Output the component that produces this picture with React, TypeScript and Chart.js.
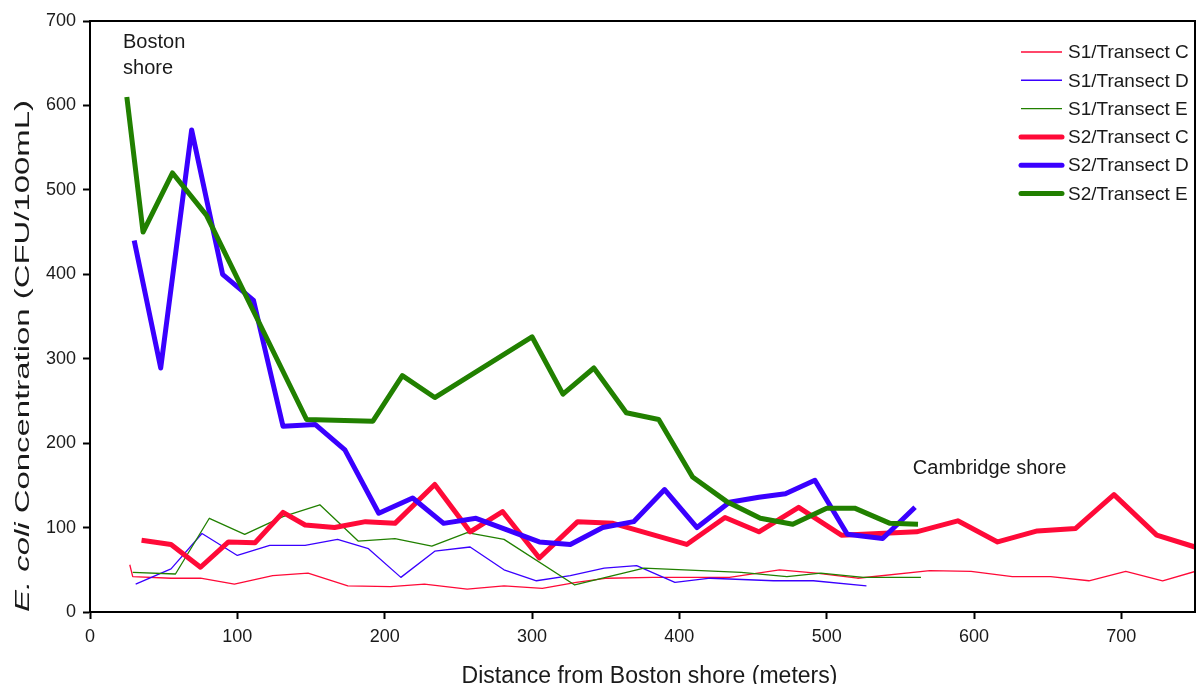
import React, { useEffect, useRef } from 'react';
import { Chart, registerables } from 'chart.js';

Chart.register(...registerables);

// ---- Data (distance from Boston shore in m, E. coli CFU/100mL) ----
const S1C_X = [27, 29, 55, 75, 98, 124, 148, 175, 204, 227, 256, 281, 307, 330, 351, 382, 434, 468, 493, 521, 570, 598, 626, 652, 678, 703, 728, 750];
const S1C_Y = [56, 42, 40, 40, 33, 43, 46, 31, 30, 33, 27, 31, 28, 35, 40, 41, 41, 50, 46, 40, 49, 48, 42, 42, 37, 48, 37, 48];

const S1D_X = [31, 55, 76, 100, 122, 146, 168, 189, 211, 234, 258, 281, 303, 326, 349, 371, 397, 421, 464, 491, 527];
const S1D_Y = [33, 51, 93, 67, 79, 79, 86, 75, 41, 72, 77, 50, 37, 43, 52, 55, 35, 40, 37, 37, 31];

const S1E_X = [29, 58, 81, 105, 131, 156, 182, 207, 232, 256, 281, 329, 376, 442, 473, 496, 525, 564];
const S1E_Y = [47, 45, 111, 92, 113, 127, 84, 87, 78, 94, 86, 32, 52, 47, 42, 46, 41, 41];

const S2C_X = [35, 55, 75, 94, 112, 131, 146, 166, 187, 207, 234, 258, 280, 305, 331, 355, 405, 431, 454, 481, 510, 561, 589, 616, 643, 669, 695, 724, 750];
const S2C_Y = [85, 80, 53, 83, 82, 118, 103, 100, 107, 105, 151, 95, 119, 64, 107, 105, 80, 112, 95, 124, 91, 95, 108, 83, 96, 99, 139, 91, 77];

const S2D_X = [30, 48, 69, 90, 111, 131, 153, 173, 196, 219, 240, 262, 305, 326, 348, 369, 390, 412, 434, 454, 472, 492, 514, 538, 560];
const S2D_Y = [440, 289, 571, 400, 369, 220, 222, 192, 117, 135, 105, 111, 83, 80, 100, 107, 145, 100, 130, 136, 140, 156, 92, 87, 124];

const S2E_X = [25, 36, 56, 79, 147, 192, 212, 234, 300, 321, 342, 364, 386, 409, 432, 455, 477, 500, 519, 543, 562];
const S2E_Y = [610, 450, 520, 470, 228, 226, 280, 254, 326, 258, 289, 236, 228, 160, 131, 111, 104, 123, 123, 105, 104];

const SERIES_LABELS = ['S1/Transect C', 'S1/Transect D', 'S1/Transect E', 'S2/Transect C', 'S2/Transect D', 'S2/Transect E'];

const X_TICKS = [0, 100, 200, 300, 400, 500, 600, 700];
const Y_TICKS = [0, 100, 200, 300, 400, 500, 600, 700];

const X_TITLE = 'Distance from Boston shore (meters)';
const Y_TITLE_ITALIC = 'E. coli';
const Y_TITLE_REST = ' Concentration (CFU/100mL)';

const NOTE_BOSTON = ['Boston', 'shore'];
const NOTE_BOSTON_AT = { x: 22.4, y: 668 };
const NOTE_CAMBRIDGE = 'Cambridge shore';
const NOTE_CAMBRIDGE_AT = { x: 558.5, y: 164 };

const RED = '#FF0A38';
const BLUE = '#3A00FF';
const GREEN = '#218000';
const FONT = '"Liberation Sans", Arial, Helvetica, sans-serif';
const TEXT = '#1a1a1a';

function pts(xs: number[], ys: number[]) {
  return xs.map((x, i) => ({ x, y: ys[i] }));
}

const decorPlugin = {
  id: 'decor',
  afterDraw(chart: any) {
    const ctx = chart.ctx as CanvasRenderingContext2D;
    const ca = chart.chartArea;
    const xs = chart.scales.x;
    const ys = chart.scales.y;
    ctx.save();

    // frame
    ctx.strokeStyle = '#000';
    ctx.lineWidth = 2;
    ctx.beginPath();
    ctx.moveTo(ca.left, ca.top);
    ctx.lineTo(ca.right, ca.top);
    ctx.lineTo(ca.right, ca.bottom);
    ctx.stroke();

    // legend
    const ds = chart.data.datasets;
    ctx.font = `19px ${FONT}`;
    ctx.textBaseline = 'middle';
    ctx.textAlign = 'left';
    for (let i = 0; i < ds.length; i++) {
      const y = ca.top + 31 + i * 28.3;
      const thick = ds[i].borderWidth > 3;
      ctx.strokeStyle = ds[i].borderColor;
      ctx.lineWidth = thick ? 5 : 1.4;
      ctx.lineCap = thick ? 'round' : 'butt';
      ctx.beginPath();
      ctx.moveTo(ca.right - 174, y);
      ctx.lineTo(ca.right - 133, y);
      ctx.stroke();
      ctx.fillStyle = TEXT;
      ctx.fillText(ds[i].label, ca.right - 127, y + 1);
    }
    ctx.lineCap = 'butt';

    // annotations
    ctx.font = `20px ${FONT}`;
    ctx.textBaseline = 'alphabetic';
    ctx.fillStyle = TEXT;
    const bx = xs.getPixelForValue(NOTE_BOSTON_AT.x);
    const by = ys.getPixelForValue(NOTE_BOSTON_AT.y);
    NOTE_BOSTON.forEach((t, i) => ctx.fillText(t, bx, by + i * 26));
    ctx.fillText(NOTE_CAMBRIDGE, xs.getPixelForValue(NOTE_CAMBRIDGE_AT.x), ys.getPixelForValue(NOTE_CAMBRIDGE_AT.y));

    // x title
    ctx.font = `23px ${FONT}`;
    ctx.textAlign = 'center';
    ctx.fillText(X_TITLE, (ca.left + ca.right) / 2 + 7, chart.height - 1);

    // y title (rotated, stretched along its length)
    ctx.textAlign = 'left';
    ctx.textBaseline = 'middle';
    const fI = `italic 21px ${FONT}`;
    const fR = `21px ${FONT}`;
    ctx.font = fI;
    const wI = ctx.measureText(Y_TITLE_ITALIC).width;
    ctx.font = fR;
    const wR = ctx.measureText(Y_TITLE_REST).width;
    const total = wI + wR;
    const target = ca.bottom - 100;
    const cy = (ca.bottom + 100) / 2;
    ctx.translate(23, cy);
    ctx.rotate(-Math.PI / 2);
    ctx.scale(target / total, 1);
    ctx.font = fI;
    ctx.fillText(Y_TITLE_ITALIC, -total / 2, 0);
    ctx.font = fR;
    ctx.fillText(Y_TITLE_REST, -total / 2 + wI, 0);

    ctx.restore();
  },
};

export default function App() {
  const ref = useRef<HTMLCanvasElement>(null);

  useEffect(() => {
    const canvas = ref.current!;
    const mk = (i: number, xs: number[], ys: number[], color: string, thick: boolean, order: number) => ({
      label: SERIES_LABELS[i],
      data: pts(xs, ys),
      borderColor: color,
      backgroundColor: color,
      borderWidth: thick ? 5 : 1.3,
      borderJoinStyle: 'round' as const,
      pointRadius: 0,
      fill: false,
      tension: 0,
      order,
    });
    const chart = new Chart(canvas, {
      type: 'line',
      data: {
        datasets: [
          mk(0, S1C_X, S1C_Y, RED, false, 5),
          mk(1, S1D_X, S1D_Y, BLUE, false, 4),
          mk(2, S1E_X, S1E_Y, GREEN, false, 3),
          mk(3, S2C_X, S2C_Y, RED, true, 2),
          mk(4, S2D_X, S2D_Y, BLUE, true, 1),
          mk(5, S2E_X, S2E_Y, GREEN, true, 0),
        ],
      },
      options: {
        responsive: false,
        animation: false,
        devicePixelRatio: 1,
        layout: { padding: { top: 21, right: 1, left: 0, bottom: 0 } },
        plugins: { legend: { display: false }, tooltip: { enabled: false } },
        scales: {
          x: {
            type: 'linear',
            min: 0,
            max: 750,
            afterFit: (s: any) => { s.height = 72; },
            afterBuildTicks: (s: any) => { s.ticks = X_TICKS.map((v) => ({ value: v })); },
            grid: { drawOnChartArea: false, drawTicks: true, tickLength: 7, tickWidth: 2, tickColor: '#000' },
            border: { display: true, color: '#000', width: 2 },
            ticks: { font: { family: FONT, size: 18 }, color: TEXT, padding: 7, maxRotation: 0, autoSkip: false },
          },
          y: {
            type: 'linear',
            min: 0,
            max: 700,
            afterFit: (s: any) => { s.width = 90; },
            afterBuildTicks: (s: any) => { s.ticks = Y_TICKS.map((v) => ({ value: v })); },
            grid: { drawOnChartArea: false, drawTicks: true, tickLength: 7, tickWidth: 2, tickColor: '#000' },
            border: { display: true, color: '#000', width: 2 },
            ticks: { font: { family: FONT, size: 18 }, color: TEXT, padding: 7, autoSkip: false },
          },
        },
      } as any,
      plugins: [decorPlugin],
    });
    return () => chart.destroy();
  }, []);

  return (
    <div style={{ position: 'fixed', left: 0, top: 0, width: 1196, height: 684, background: '#fff' }}>
      <canvas ref={ref} width={1196} height={684} style={{ width: 1196, height: 684, display: 'block' }} />
    </div>
  );
}
